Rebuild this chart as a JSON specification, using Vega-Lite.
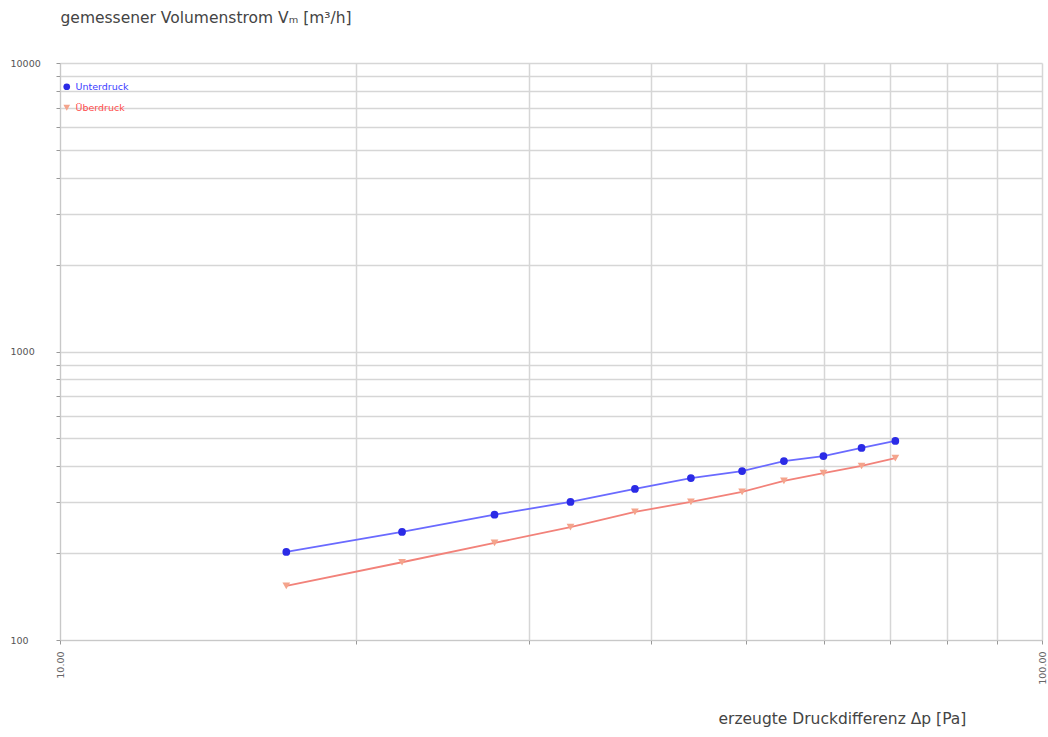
{
  "$schema": "https://vega.github.io/schema/vega-lite/v6.json",
  "width": 982,
  "height": 577,
  "autosize": {"type": "none"},
  "padding": {"left": 60, "top": 63, "right": 6, "bottom": 97},
  "background": "white",
  "config": {
    "view": {"stroke": null},
    "font": "DejaVu Sans"
  },
  "data": {
    "values": [
      {"serie": "Unterdruck", "dp": 17.0, "v": 202},
      {"serie": "Unterdruck", "dp": 22.3, "v": 237},
      {"serie": "Unterdruck", "dp": 27.7, "v": 272},
      {"serie": "Unterdruck", "dp": 33.1, "v": 301},
      {"serie": "Unterdruck", "dp": 38.5, "v": 334},
      {"serie": "Unterdruck", "dp": 43.9, "v": 364},
      {"serie": "Unterdruck", "dp": 49.5, "v": 385},
      {"serie": "Unterdruck", "dp": 54.6, "v": 417},
      {"serie": "Unterdruck", "dp": 59.9, "v": 434},
      {"serie": "Unterdruck", "dp": 65.5, "v": 463},
      {"serie": "Unterdruck", "dp": 70.9, "v": 490},
      {"serie": "Überdruck", "dp": 17.0, "v": 154},
      {"serie": "Überdruck", "dp": 22.3, "v": 186},
      {"serie": "Überdruck", "dp": 27.7, "v": 217},
      {"serie": "Überdruck", "dp": 33.1, "v": 246},
      {"serie": "Überdruck", "dp": 38.5, "v": 278},
      {"serie": "Überdruck", "dp": 43.9, "v": 301},
      {"serie": "Überdruck", "dp": 49.5, "v": 326},
      {"serie": "Überdruck", "dp": 54.6, "v": 356},
      {"serie": "Überdruck", "dp": 59.9, "v": 379},
      {"serie": "Überdruck", "dp": 65.5, "v": 401},
      {"serie": "Überdruck", "dp": 70.9, "v": 427}
    ]
  },
  "encoding": {
    "x": {
      "field": "dp",
      "type": "quantitative",
      "scale": {"type": "log", "domain": [10, 100], "nice": false},
      "axis": {
        "values": [10, 20, 30, 40, 50, 60, 70, 80, 90, 100],
        "labelExpr": "datum.value == 10 ? '10.00' : (datum.value == 100 ? '100.00' : '')",
        "labelAngle": 270,
        "labelFontSize": 9.5,
        "labelColor": "#666",
        "labelFlush": false,
        "labelOverlap": false,
        "labelPadding": 7,
        "grid": true,
        "gridColor": "#d6d6d6",
        "gridWidth": 1.5,
        "domainColor": "#c8c8c8",
        "tickColor": "#999",
        "tickSize": 4,
        "title": "erzeugte Druckdifferenz Δp [Pa]",
        "titleX": 658,
        "titleY": 78,
        "titleAlign": "left",
        "titleBaseline": "middle",
        "titleAnchor": "start",
        "titleFontSize": 15.5,
        "titleFontWeight": "normal",
        "titleColor": "#444"
      }
    },
    "y": {
      "field": "v",
      "type": "quantitative",
      "scale": {"type": "log", "domain": [100, 10000], "nice": false},
      "axis": {
        "values": [100, 200, 300, 400, 500, 600, 700, 800, 900, 1000, 2000, 3000, 4000, 5000, 6000, 7000, 8000, 9000, 10000],
        "labelExpr": "(datum.value == 100 || datum.value == 1000 || datum.value == 10000) ? datum.value : ''",
        "labelAlign": "left",
        "labelBaseline": "middle",
        "labelPadding": 46,
        "labelFontSize": 9.5,
        "labelColor": "#555",
        "labelOverlap": false,
        "labelFlush": false,
        "grid": true,
        "gridColor": "#d6d6d6",
        "gridWidth": 1.5,
        "domainColor": "#c8c8c8",
        "tickColor": "#999",
        "tickSize": 4,
        "title": "gemessener Volumenstrom Vₘ [m³/h]",
        "titleAngle": 0,
        "titleX": 0,
        "titleY": -46,
        "titleAlign": "left",
        "titleBaseline": "middle",
        "titleAnchor": "start",
        "titleFontSize": 15.5,
        "titleFontWeight": "normal",
        "titleColor": "#444"
      }
    }
  },
  "layer": [
    {
      "transform": [{"filter": "datum.serie == 'Unterdruck'"}],
      "mark": {"type": "line", "strokeWidth": 1.8, "color": "#6a6aff"},
      "encoding": {}
    },
    {
      "transform": [{"filter": "datum.serie == 'Überdruck'"}],
      "mark": {"type": "line", "strokeWidth": 1.8, "color": "#f2827a"},
      "encoding": {}
    },
    {
      "mark": {"type": "point", "filled": true, "size": 60, "opacity": 1},
      "encoding": {
        "color": {
          "field": "serie",
          "type": "nominal",
          "scale": {"domain": ["Unterdruck", "Überdruck"], "range": ["#2b2be6", "#f4a48c"]},
          "legend": {
            "title": null,
            "orient": "none",
            "legendX": 2,
            "legendY": 19,
            "labelFontSize": 9.5,
            "labelFontWeight": "normal",
            "symbolSize": 45,
            "rowPadding": 10,
            "labelColor": {"expr": "datum.label == 'Unterdruck' ? '#3c3cff' : '#ff4c4c'"}
          }
        },
        "shape": {
          "field": "serie",
          "type": "nominal",
          "scale": {"domain": ["Unterdruck", "Überdruck"], "range": ["circle", "triangle-down"]},
          "legend": {
            "title": null,
            "orient": "none",
            "legendX": 2,
            "legendY": 19,
            "labelFontSize": 9.5,
            "labelFontWeight": "normal",
            "symbolSize": 45,
            "rowPadding": 10,
            "labelColor": {"expr": "datum.label == 'Unterdruck' ? '#3c3cff' : '#ff4c4c'"}
          }
        }
      }
    }
  ]
}
